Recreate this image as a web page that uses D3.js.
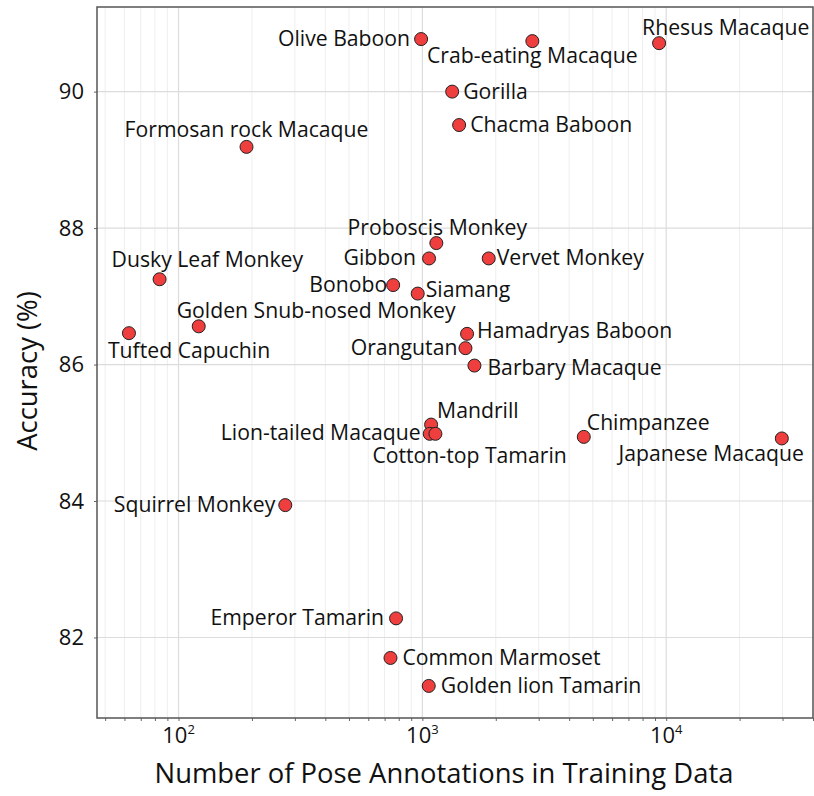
<!DOCTYPE html>
<html>
<head>
<meta charset="utf-8">
<script src="https://cdn.jsdelivr.net/npm/d3@7"></script>
<style>
  body { margin: 0; background: #fff; }
  text { font-family: "Open Sans", sans-serif; fill: #111; }
</style>
</head>
<body>
<script>
// species, annotation counts and accuracy
var species = ["Olive Baboon", "Crab-eating Macaque", "Rhesus Macaque", "Gorilla", "Chacma Baboon",
  "Formosan rock Macaque", "Proboscis Monkey", "Gibbon", "Vervet Monkey", "Bonobo", "Siamang",
  "Dusky Leaf Monkey", "Golden Snub-nosed Monkey", "Tufted Capuchin", "Hamadryas Baboon",
  "Orangutan", "Barbary Macaque", "Mandrill", "Lion-tailed Macaque", "Cotton-top Tamarin",
  "Chimpanzee", "Japanese Macaque", "Squirrel Monkey", "Emperor Tamarin", "Common Marmoset",
  "Golden lion Tamarin"];
var annotations = [988, 2825, 9350, 1325, 1415,
  190, 1141, 1065, 1871, 759, 957,
  83.6, 121, 62.6, 1525,
  1502, 1635, 1086, 1072, 1131,
  4592, 29800, 274, 780, 740,
  1062];
var accuracy = [90.77, 90.74, 90.71, 90.0, 89.51,
  89.19, 87.78, 87.555, 87.555, 87.165, 87.04,
  87.25, 86.56, 86.46, 86.45,
  86.24, 85.985, 85.12, 84.985, 84.985,
  84.94, 84.917, 83.94, 82.28, 81.70,
  81.29];
var yTicks = [82, 84, 86, 88, 90];
var xTicks = [100, 1000, 10000];

// label placement: [anchor, dx, dy] relative to the point
var labelPos = {
  "Olive Baboon": ["end", -11, 7],
  "Crab-eating Macaque": ["middle", 0, 22],
  "Rhesus Macaque": ["start", -17, -8],
  "Gorilla": ["start", 11, 7],
  "Chacma Baboon": ["start", 11, 7],
  "Formosan rock Macaque": ["middle", 0, -10],
  "Proboscis Monkey": ["middle", 1, -8],
  "Gibbon": ["end", -13, 7],
  "Vervet Monkey": ["start", 8, 7],
  "Bonobo": ["end", -6, 7],
  "Siamang": ["start", 8, 3],
  "Dusky Leaf Monkey": ["start", -48, -12],
  "Golden Snub-nosed Monkey": ["start", -22, -8],
  "Tufted Capuchin": ["start", -21, 25],
  "Hamadryas Baboon": ["start", 10, 4],
  "Orangutan": ["end", -8, 7],
  "Barbary Macaque": ["start", 13, 9],
  "Mandrill": ["start", 6, -7],
  "Lion-tailed Macaque": ["end", -9, 6],
  "Cotton-top Tamarin": ["start", -63, 29],
  "Chimpanzee": ["start", 3, -7],
  "Japanese Macaque": ["end", 22, 23],
  "Squirrel Monkey": ["end", -10, 7],
  "Emperor Tamarin": ["end", -12, 7],
  "Common Marmoset": ["start", 12, 7],
  "Golden lion Tamarin": ["start", 12, 7]
};

var width = 814, height = 796;
var margin = {top: 7, right: 1, bottom: 78, left: 97};
var iw = width - margin.left - margin.right,
    ih = height - margin.top - margin.bottom;

var data = species.map(function(s, i) {
  return {name: s, n: annotations[i], acc: accuracy[i]};
});

var x = d3.scaleLog().domain([46.3, 40000]).range([0, iw]);
var y = d3.scaleLinear().domain([80.82, 91.24]).range([ih, 0]);

var svg = d3.select("body").append("svg")
  .attr("width", width)
  .attr("height", height);

var g = svg.append("g")
  .attr("transform", "translate(" + margin.left + "," + margin.top + ")");

// minor x grid
var minor = x.ticks().filter(function(v) { return xTicks.indexOf(v) < 0; });
g.append("g").selectAll("line")
  .data(minor)
  .enter().append("line")
  .attr("x1", function(d) { return x(d); })
  .attr("x2", function(d) { return x(d); })
  .attr("y1", 0).attr("y2", ih)
  .style("stroke", "#eeeeee").style("stroke-width", 1);

// major grid
g.append("g").selectAll("line")
  .data(xTicks)
  .enter().append("line")
  .attr("x1", function(d) { return x(d); })
  .attr("x2", function(d) { return x(d); })
  .attr("y1", 0).attr("y2", ih)
  .style("stroke", "#dcdcdc").style("stroke-width", 1.2);

g.append("g").selectAll("line")
  .data(yTicks)
  .enter().append("line")
  .attr("x1", 0).attr("x2", iw)
  .attr("y1", function(d) { return y(d); })
  .attr("y2", function(d) { return y(d); })
  .style("stroke", "#dcdcdc").style("stroke-width", 1.2);

// axes
var xAxis = g.append("g")
  .attr("transform", "translate(0," + ih + ")")
  .call(d3.axisBottom(x).tickValues(x.ticks()).tickSize(3).tickFormat(""));
xAxis.select(".domain").remove();
xAxis.selectAll("line").style("stroke", "#666");

var yAxis = g.append("g")
  .call(d3.axisLeft(y).tickValues(yTicks).tickSize(3).tickPadding(10));
yAxis.select(".domain").remove();
yAxis.selectAll("line").style("stroke", "#666");
yAxis.selectAll("text")
  .style("font-family", "'Open Sans', sans-serif")
  .style("font-size", "22px")
  .style("fill", "#111");

// x tick labels with superscript exponent
var xl = g.append("g").selectAll("text")
  .data(xTicks)
  .enter().append("text")
  .attr("x", function(d) { return x(d); })
  .attr("y", ih + 25)
  .attr("text-anchor", "middle")
  .style("font-size", "22px");
xl.append("tspan").text("10");
xl.append("tspan")
  .attr("dy", -9)
  .style("font-size", "13px")
  .text(function(d) { return Math.round(Math.log10(d)); });

// frame
g.append("rect")
  .attr("width", iw).attr("height", ih)
  .style("fill", "none")
  .style("stroke", "#555")
  .style("stroke-width", 1.5);

// points
g.append("g").selectAll("circle")
  .data(data)
  .enter().append("circle")
  .attr("cx", function(d) { return x(d.n); })
  .attr("cy", function(d) { return y(d.acc); })
  .attr("r", 6.5)
  .style("fill", "#ef3e3e")
  .style("stroke", "#222")
  .style("stroke-width", 1);

// labels
g.append("g").selectAll("text")
  .data(data)
  .enter().append("text")
  .attr("x", function(d) { return x(d.n) + labelPos[d.name][1]; })
  .attr("y", function(d) { return y(d.acc) + labelPos[d.name][2]; })
  .attr("text-anchor", function(d) { return labelPos[d.name][0]; })
  .style("font-size", "21.2px")
  .text(function(d) { return d.name; });

// axis titles
svg.append("text")
  .attr("x", 444)
  .attr("y", 783)
  .attr("text-anchor", "middle")
  .style("font-size", "27.4px")
  .text("Number of Pose Annotations in Training Data");

svg.append("text")
  .attr("transform", "translate(37," + 371 + ") rotate(-90)")
  .attr("text-anchor", "middle")
  .style("font-size", "27.4px")
  .text("Accuracy (%)");
</script>
</body>
</html>
